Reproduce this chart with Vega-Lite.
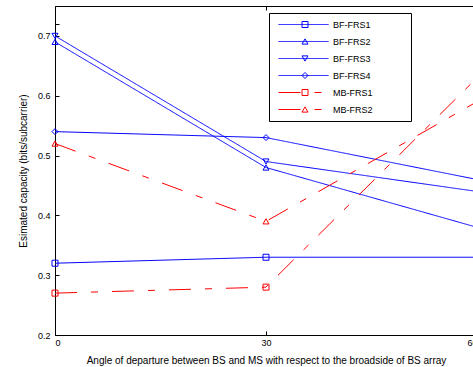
{
  "$schema": "https://vega.github.io/schema/vega-lite/v6.json",
  "width": 422,
  "height": 329,
  "autosize": {"type": "none"},
  "padding": {"left": 55, "top": 6, "right": 0, "bottom": 32},
  "background": "white",
  "config": {
    "font": "Liberation Sans",
    "view": {"stroke": "black", "strokeWidth": 1},
    "axis": {
      "domainColor": "black",
      "tickColor": "black",
      "labelColor": "black",
      "titleColor": "black",
      "labelFont": "Liberation Sans",
      "titleFont": "Liberation Sans",
      "labelFontSize": 9,
      "titleFontSize": 10,
      "titleFontWeight": "normal",
      "grid": false,
      "tickSize": -4
    }
  },
  "data": {
    "values": [
      {"series": "BF-FRS1", "angle": 0, "capacity": 0.32},
      {"series": "BF-FRS1", "angle": 30, "capacity": 0.33},
      {"series": "BF-FRS1", "angle": 60, "capacity": 0.33},
      {"series": "BF-FRS2", "angle": 0, "capacity": 0.69},
      {"series": "BF-FRS2", "angle": 30, "capacity": 0.48},
      {"series": "BF-FRS2", "angle": 60, "capacity": 0.38},
      {"series": "BF-FRS3", "angle": 0, "capacity": 0.70},
      {"series": "BF-FRS3", "angle": 30, "capacity": 0.49},
      {"series": "BF-FRS3", "angle": 60, "capacity": 0.44},
      {"series": "BF-FRS4", "angle": 0, "capacity": 0.54},
      {"series": "BF-FRS4", "angle": 30, "capacity": 0.53},
      {"series": "BF-FRS4", "angle": 60, "capacity": 0.46},
      {"series": "MB-FRS1", "angle": 0, "capacity": 0.27},
      {"series": "MB-FRS1", "angle": 30, "capacity": 0.28},
      {"series": "MB-FRS1", "angle": 60, "capacity": 0.63},
      {"series": "MB-FRS2", "angle": 0, "capacity": 0.52},
      {"series": "MB-FRS2", "angle": 30, "capacity": 0.39},
      {"series": "MB-FRS2", "angle": 60, "capacity": 0.59}
    ]
  },
  "layer": [
    {
      "mark": {"type": "line", "strokeWidth": 1},
      "encoding": {
        "x": {
          "field": "angle", "type": "quantitative",
          "scale": {"domain": [0, 60], "nice": false, "zero": false},
          "axis": {
            "orient": "bottom", "values": [0, 30, 60],
            "title": "Angle of departure between BS and MS with respect to the broadside of BS array",
            "labelPadding": 7, "titlePadding": 8
          }
        },
        "y": {
          "field": "capacity", "type": "quantitative",
          "scale": {"domain": [0.2, 0.75], "nice": false, "zero": false},
          "axis": {
            "orient": "left",
            "values": [0.2, 0.3, 0.4, 0.5, 0.6, 0.7, 0.72],
            "labelExpr": "datum.value > 0.71 ? '' : format(datum.value, '.1f')",
            "title": "Esimated capacity (bits/subcarrier)",
            "labelPadding": 9, "titlePadding": 9
          }
        },
        "color": {
          "field": "series", "type": "nominal",
          "scale": {
            "domain": ["BF-FRS1", "BF-FRS2", "BF-FRS3", "BF-FRS4", "MB-FRS1", "MB-FRS2"],
            "range": ["#0000ff", "#0000ff", "#0000ff", "#0000ff", "#ff0000", "#ff0000"]
          },
          "legend": {
            "orient": "none", "legendX": 214, "legendY": 7,
            "title": null,
            "strokeColor": "black", "fillColor": "white",
            "padding": 3,
            "symbolType": "stroke",
            "symbolSize": 2500, "clipHeight": 17, "rowPadding": 0,
            "symbolOffset": 6, "labelOffset": 4,
            "symbolStrokeWidth": 1,
            "zindex": 1,
            "labelFont": "Liberation Sans", "labelFontSize": 9, "labelColor": "black",
            "encode": {
              "symbols": {
                "update": {
                  "shape": {"value": "stroke"},
                  "fill": {"value": "transparent"},
                  "strokeDash": {"signal": "slice(datum.value, 0, 2) === 'MB' ? [22, 14, 7, 14] : [1, 0]"},
                  "strokeWidth": {"value": 1}
                }
              },
              "entries": {"update": {"width": {"value": 136}}}
            }
          }
        },
        "strokeDash": {
          "field": "series", "type": "nominal",
          "scale": {
            "domain": ["BF-FRS1", "BF-FRS2", "BF-FRS3", "BF-FRS4", "MB-FRS1", "MB-FRS2"],
            "range": [[1, 0], [1, 0], [1, 0], [1, 0], [22, 14, 7, 14], [22, 14, 7, 14]]
          },
          "legend": null
        }
      }
    },
    {
      "mark": {"type": "point", "filled": false, "strokeWidth": 1, "opacity": 1, "size": 36},
      "encoding": {
        "x": {
          "field": "angle", "type": "quantitative",
          "axis": {"orient": "top", "values": [0, 30, 60], "labels": false, "title": null, "domain": false}
        },
        "y": {
          "field": "capacity", "type": "quantitative",
          "axis": {"orient": "right", "values": [0.2, 0.3, 0.4, 0.5, 0.6, 0.7, 0.72], "labels": false, "title": null, "domain": false}
        },
        "stroke": {
          "field": "series", "type": "nominal",
          "scale": {
            "domain": ["BF-FRS1", "BF-FRS2", "BF-FRS3", "BF-FRS4", "MB-FRS1", "MB-FRS2", "zz"],
            "range": ["#0000ff", "#0000ff", "#0000ff", "#0000ff", "#ff0000", "#ff0000", "#ffffff"]
          },
          "legend": {
            "values": ["BF-FRS1", "BF-FRS2", "BF-FRS3", "BF-FRS4", "MB-FRS1", "MB-FRS2"],
            "title": null
          }
        },
        "shape": {
          "field": "series", "type": "nominal",
          "scale": {
            "domain": ["BF-FRS1", "BF-FRS2", "BF-FRS3", "BF-FRS4", "MB-FRS1", "MB-FRS2", "zz"],
            "range": ["square", "triangle-up", "triangle-down", "diamond", "square", "triangle-up", "circle"]
          },
          "legend": {
            "orient": "none", "legendX": 214, "legendY": 7,
            "values": ["BF-FRS1", "BF-FRS2", "BF-FRS3", "BF-FRS4", "MB-FRS1", "MB-FRS2"],
            "title": null,
            "padding": 3,
            "symbolSize": 36, "clipHeight": 17, "rowPadding": 0,
            "symbolOffset": 28, "labelOffset": 4,
            "symbolStrokeWidth": 1,
            "symbolFillColor": "transparent",
            "symbolOpacity": 1,
            "labelExpr": "''",
            "zindex": 2
          }
        }
      }
    }
  ],
  "resolve": {"axis": {"x": "independent", "y": "independent"}}
}
